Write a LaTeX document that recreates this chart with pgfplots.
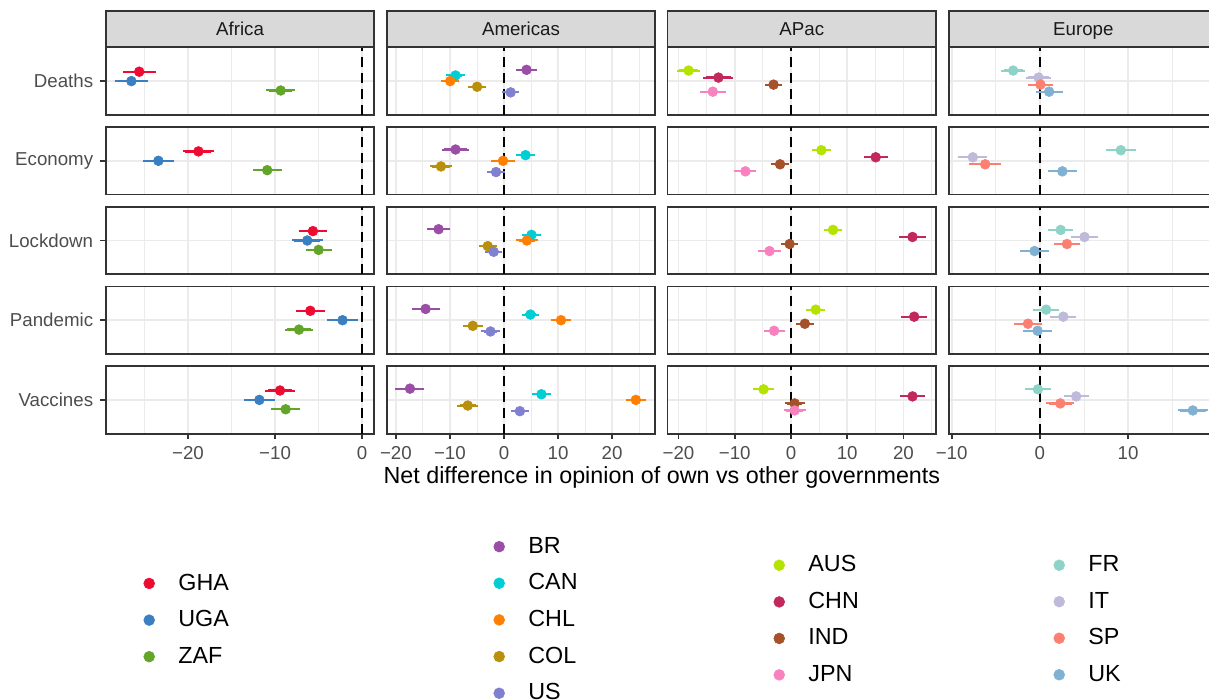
\documentclass[border=0pt]{standalone}
\usepackage{pgfplots}
\pgfplotsset{compat=1.18}
\usepackage{fontspec}
\setmainfont{Liberation Sans}

\definecolor{cGHA}{HTML}{EE0A30}
\definecolor{cUGA}{HTML}{3A7FBF}
\definecolor{cZAF}{HTML}{63A52A}
\definecolor{cBR}{HTML}{9A4EA6}
\definecolor{cCAN}{HTML}{00CDD4}
\definecolor{cCHL}{HTML}{FF7F00}
\definecolor{cCOL}{HTML}{B8900B}
\definecolor{cUS}{HTML}{8080D0}
\definecolor{cAUS}{HTML}{B5E300}
\definecolor{cCHN}{HTML}{C3285A}
\definecolor{cIND}{HTML}{A5522B}
\definecolor{cJPN}{HTML}{F782BF}
\definecolor{cFR}{HTML}{8DD3C7}
\definecolor{cIT}{HTML}{BEBADA}
\definecolor{cSP}{HTML}{FB8072}
\definecolor{cUK}{HTML}{80B1D3}
\definecolor{g20}{HTML}{333333}
\definecolor{g30}{HTML}{4D4D4D}
\definecolor{g10}{HTML}{1A1A1A}
\definecolor{g85}{HTML}{D9D9D9}
\definecolor{g92}{HTML}{EBEBEB}

\pgfplotsset{
  panel/.style={
    scale only axis, width=134.3pt, height=33.8pt, anchor=north west,
    ymin=0.4, ymax=1.6, ytick={1}, yticklabels={}, xticklabels={},
    axis line style={draw=g20, line width=0.9pt},
    xmajorgrids, xminorgrids, ymajorgrids,
    major grid style={draw=g92, line width=0.85pt},
    minor grid style={draw=g92, line width=0.45pt},
    minor tick length=0pt, major tick length=2.75pt,
    tick align=outside, tick pos=left,
    xtick style={draw=none}, ytick style={draw=none},
    xticklabel style={font=\fontsize{9.35}{11}\selectfont, text=g30},
    yticklabel style={font=\fontsize{9.35}{11}\selectfont, text=g30},
  },
  colAF/.style={xmin=-29.45, xmax=1.4, xtick={-20,-10,0}, minor xtick={-25,-15,-5}},
  colAM/.style={xmin=-21.7, xmax=28.0, xtick={-20,-10,0,10,20}, minor xtick={-15,-5,5,15,25}},
  colAP/.style={xmin=-21.95, xmax=25.8, xtick={-20,-10,0,10,20}, minor xtick={-15,-5,5,15,25}},
  colEU/.style={xmin=-10.3, xmax=20.15, xtick={-10,0,10,20}, minor xtick={-5,5,15}},
  yt/.style={ytick style={draw=g20, line width=0.9pt}},
  bot/.style={xtick style={draw=g20, line width=0.9pt},
    legend style={at={(axis description cs:#1,-2.756)}, anchor=west, draw=none, fill=none,
      inner sep=0pt, outer sep=0pt, row sep=8.7pt, column sep=11.9pt,
      nodes={inner sep=0pt, text=black, font=\fontsize{11.65}{13}\selectfont}},
    legend cell align=left,
    legend image code/.code={\draw[##1, mark size=2.7pt] plot coordinates {(0pt,0pt)};}},
  dot/.style={only marks, mark=*, mark size=2.45pt, mark options={solid, line width=0.3pt},
    error bars/x dir=both, error bars/x explicit,
    error bars/error bar style={line width=1.1pt, solid},
    error bars/error mark options={line width=1pt, mark size=1.3pt, solid}},
}

\newcommand{\pnt}[4]{\addplot[color=#1, dot] coordinates {(#2,#3) +- (#4,0)};}
\newcommand{\vz}{\addplot[forget plot, black, line width=1pt, dash pattern=on 5pt off 3pt] coordinates {(0,0.4) (0,1.6)};}

\begin{document}
\begin{tikzpicture}
\useasboundingbox (0,0) rectangle (604.5pt,-350pt);

% ---------------- Africa ----------------
\begin{axis}[panel, colAF, yt, yticklabels={Deaths}, at={(52.85pt,-23.65pt)}]
\vz
\pnt{cGHA}{-25.6}{1.1667}{1.62}
\pnt{cUGA}{-26.5}{1}{1.62}
\pnt{cZAF}{-9.35}{0.8333}{1.34}
\end{axis}
\begin{axis}[panel, colAF, yt, yticklabels={Economy}, at={(52.85pt,-63.5pt)}]
\vz
\pnt{cGHA}{-18.8}{1.1667}{1.5}
\pnt{cUGA}{-23.4}{1}{1.47}
\pnt{cZAF}{-10.9}{0.8333}{1.35}
\end{axis}
\begin{axis}[panel, colAF, yt, yticklabels={Lockdown}, at={(52.85pt,-103.35pt)}]
\vz
\pnt{cGHA}{-5.65}{1.1667}{1.3}
\pnt{cUGA}{-6.3}{1}{1.47}
\pnt{cZAF}{-5.0}{0.8333}{1.2}
\end{axis}
\begin{axis}[panel, colAF, yt, yticklabels={Pandemic}, at={(52.85pt,-143.2pt)}]
\vz
\pnt{cGHA}{-5.95}{1.1667}{1.4}
\pnt{cUGA}{-2.25}{1}{1.45}
\pnt{cZAF}{-7.25}{0.8333}{1.34}
\end{axis}
\begin{axis}[panel, colAF, yt, yticklabels={Vaccines}, bot=0.1418, xticklabels={−20,−10,0}, at={(52.85pt,-183.05pt)}]
\vz
\pnt{cGHA}{-9.43}{1.1667}{1.37}\addlegendentry{GHA}
\pnt{cUGA}{-11.8}{1}{1.45}\addlegendentry{UGA}
\pnt{cZAF}{-8.78}{0.8333}{1.35}\addlegendentry{ZAF}
\end{axis}

% ---------------- Americas ----------------
\begin{axis}[panel, colAM, at={(193.35pt,-23.65pt)}]
\vz
\pnt{cBR}{4.17}{1.2}{1.5}
\pnt{cCAN}{-8.96}{1.1}{1.2}
\pnt{cCHL}{-9.94}{1.0}{1.2}
\pnt{cCOL}{-4.97}{0.9}{1.2}
\pnt{cUS}{1.23}{0.8}{1.1}
\end{axis}
\begin{axis}[panel, colAM, at={(193.35pt,-63.5pt)}]
\vz
\pnt{cBR}{-8.96}{1.2}{2.05}
\pnt{cCAN}{3.99}{1.1}{1.2}
\pnt{cCHL}{-0.18}{1.0}{1.7}
\pnt{cCOL}{-11.66}{0.9}{1.6}
\pnt{cUS}{-1.47}{0.8}{1.2}
\end{axis}
\begin{axis}[panel, colAM, at={(193.35pt,-103.35pt)}]
\vz
\pnt{cBR}{-12.1}{1.2}{1.7}
\pnt{cCAN}{5.09}{1.1}{1.2}
\pnt{cCHL}{4.23}{1.0}{1.5}
\pnt{cCOL}{-3.0}{0.9}{1.2}
\pnt{cUS}{-1.9}{0.8}{1.1}
\end{axis}
\begin{axis}[panel, colAM, at={(193.35pt,-143.2pt)}]
\vz
\pnt{cBR}{-14.5}{1.2}{2.1}
\pnt{cCAN}{4.9}{1.1}{1.1}
\pnt{cCHL}{10.55}{1.0}{1.4}
\pnt{cCOL}{-5.77}{0.9}{1.4}
\pnt{cUS}{-2.5}{0.8}{1.2}
\end{axis}
\begin{axis}[panel, colAM, bot=0.3987, xticklabels={−20,−10,0,10,20}, at={(193.35pt,-183.05pt)}]
\vz
\pnt{cBR}{-17.4}{1.2}{2.2}\addlegendentry{BR}
\pnt{cCAN}{6.93}{1.1}{1.2}\addlegendentry{CAN}
\pnt{cCHL}{24.4}{1.0}{1.4}\addlegendentry{CHL}
\pnt{cCOL}{-6.7}{0.9}{1.5}\addlegendentry{COL}
\pnt{cUS}{2.94}{0.8}{1.2}\addlegendentry{US}
\end{axis}

% ---------------- APac ----------------
\begin{axis}[panel, colAP, at={(333.75pt,-23.65pt)}]
\vz
\pnt{cAUS}{-18.2}{1.1875}{1.65}
\pnt{cCHN}{-12.9}{1.0625}{2.2}
\pnt{cIND}{-3.1}{0.9375}{1.1}
\pnt{cJPN}{-13.9}{0.8125}{1.85}
\end{axis}
\begin{axis}[panel, colAP, at={(333.75pt,-63.5pt)}]
\vz
\pnt{cAUS}{5.4}{1.1875}{1.2}
\pnt{cCHN}{15.06}{1.0625}{1.7}
\pnt{cIND}{-1.94}{0.9375}{1.2}
\pnt{cJPN}{-8.1}{0.8125}{1.5}
\end{axis}
\begin{axis}[panel, colAP, at={(333.75pt,-103.35pt)}]
\vz
\pnt{cAUS}{7.47}{1.1875}{1.2}
\pnt{cCHN}{21.6}{1.0625}{1.9}
\pnt{cIND}{-0.24}{0.9375}{1.1}
\pnt{cJPN}{-3.82}{0.8125}{1.55}
\end{axis}
\begin{axis}[panel, colAP, at={(333.75pt,-143.2pt)}]
\vz
\pnt{cAUS}{4.4}{1.1875}{1.2}
\pnt{cCHN}{21.9}{1.0625}{1.8}
\pnt{cIND}{2.47}{0.9375}{1.2}
\pnt{cJPN}{-3.0}{0.8125}{1.4}
\end{axis}
\begin{axis}[panel, colAP, bot=0.3958, xticklabels={−20,−10,0,10,20}, at={(333.75pt,-183.05pt)}]
\vz
\pnt{cAUS}{-4.88}{1.1875}{1.4}\addlegendentry{AUS}
\pnt{cCHN}{21.6}{1.0625}{1.8}\addlegendentry{CHN}
\pnt{cIND}{0.65}{0.9375}{1.3}\addlegendentry{IND}
\pnt{cJPN}{0.65}{0.8125}{1.5}\addlegendentry{JPN}
\end{axis}

% ---------------- Europe ----------------
\begin{axis}[panel, colEU, at={(474.5pt,-23.65pt)}]
\vz
\pnt{cFR}{-3.03}{1.1875}{1.09}
\pnt{cIT}{-0.15}{1.0625}{1.14}
\pnt{cSP}{0.07}{0.9375}{1.16}
\pnt{cUK}{1.05}{0.8125}{1.25}
\end{axis}
\begin{axis}[panel, colEU, at={(474.5pt,-63.5pt)}]
\vz
\pnt{cFR}{9.18}{1.1875}{1.4}
\pnt{cIT}{-7.6}{1.0625}{1.33}
\pnt{cSP}{-6.2}{0.9375}{1.54}
\pnt{cUK}{2.55}{0.8125}{1.35}
\end{axis}
\begin{axis}[panel, colEU, at={(474.5pt,-103.35pt)}]
\vz
\pnt{cFR}{2.36}{1.1875}{1.1}
\pnt{cIT}{5.06}{1.0625}{1.2}
\pnt{cSP}{3.07}{0.9375}{1.16}
\pnt{cUK}{-0.6}{0.8125}{1.35}
\end{axis}
\begin{axis}[panel, colEU, at={(474.5pt,-143.2pt)}]
\vz
\pnt{cFR}{0.71}{1.1875}{1.16}
\pnt{cIT}{2.66}{1.0625}{1.18}
\pnt{cSP}{-1.35}{0.9375}{1.31}
\pnt{cUK}{-0.26}{0.8125}{1.37}
\end{axis}
\begin{axis}[panel, colEU, bot=0.3902, xticklabels={−10,0,10,{}}, at={(474.5pt,-183.05pt)}]
\vz
\pnt{cFR}{-0.22}{1.1875}{1.18}\addlegendentry{FR}
\pnt{cIT}{4.12}{1.0625}{1.1}\addlegendentry{IT}
\pnt{cSP}{2.32}{0.9375}{1.31}\addlegendentry{SP}
\pnt{cUK}{17.34}{0.8125}{1.44}\addlegendentry{UK}
\end{axis}

% strips
\foreach \cx/\lab in {52.85/Africa, 193.35/Americas, 333.75/APac, 474.5/Europe}{
  \filldraw[fill=g85, draw=g20, line width=0.9pt] (\cx pt,-5.35pt) rectangle ++(134.3pt,-18.3pt);
  \node[anchor=base, inner sep=0pt, text=g10, font=\fontsize{9.35}{11}\selectfont] at (\cx pt+67.15pt,-17.85pt) {\lab};
}

\node[anchor=base, inner sep=0pt, text=black, font=\fontsize{11.65}{14}\selectfont] at (330.95pt,-241.65pt) {Net difference in opinion of own vs other governments};
\end{tikzpicture}
\end{document}
